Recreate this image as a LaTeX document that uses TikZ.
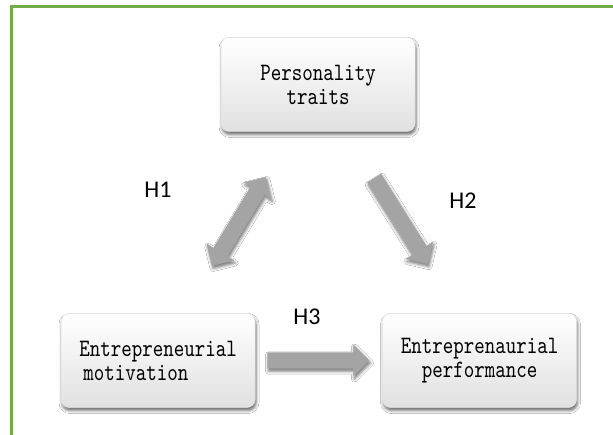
\documentclass[tikz,border=0pt]{standalone}
\usepackage{fontspec}
\newfontfamily\labelfont{Carlito}
\newfontfamily\boxfont{lmmono10-regular.otf}[FakeStretch=0.8]
\usetikzlibrary{shapes.arrows,shadows.blur,calc}
\definecolor{framegreen}{RGB}{112,173,71}
\definecolor{arrowgray}{RGB}{164,164,164}
\begin{document}
\begin{tikzpicture}[x=1pt,y=1pt,
  box/.style={rounded corners=8pt, minimum width=194pt, minimum height=94pt,
    top color=white, middle color=black!2, bottom color=black!12,
    draw=black!12, line width=0.5pt,
    blur shadow={shadow xshift=1pt, shadow yshift=-3pt, shadow blur radius=3pt, shadow opacity=60},
    font=\boxfont\fontsize{25}{24}\selectfont,
    align=center, inner sep=0pt},
  arrowbase/.style={fill=arrowgray, draw=none, minimum width=32pt,
    inner xsep=0pt, inner ysep=8pt,
    blur shadow={shadow xshift=1pt, shadow yshift=-2.5pt, shadow blur radius=3pt, shadow opacity=55}},
  blockarrow/.style={arrowbase, single arrow, single arrow head extend=8pt},
  twowayarrow/.style={arrowbase, double arrow, double arrow head extend=8pt},
  hlabel/.style={font=\labelfont\fontsize{24}{24}\selectfont, inner sep=0pt}
]
\useasboundingbox (0,0) rectangle (613,434);
\fill[white] (0,0) rectangle (613,434);

% green frame, open to the right and bottom
\draw[framegreen, line width=2.5pt] (11.3,-10) -- (11.3,427.3) -- (630,427.3);

% the three constructs
\node[box] (pers) at (318,349.5) {Personality\\traits};
\node[box, align=left] (mot) at (158,73.5) {Entrepreneurial\\\hspace{4pt}motivation};
\node[box] (perf) at (479.5,73.5) {Entreprenaurial\\performance};

% hypotheses arrows
\node[twowayarrow, minimum height=104pt, rotate=58.8] (a1) at (239,212.5) {};
\node[blockarrow, minimum height=101.5pt, rotate=-57.9, anchor=tail] (a2) at (374,256) {};
\node[blockarrow, minimum height=102pt, anchor=tail] (a3) at ($(mot.east)+(12,0)$) {};

% labels
\node[hlabel] (h1) at (158,244) {H1};
\node[hlabel] (h2) at (463,233) {H2};
\node[hlabel] (h3) at (307,117) {H3};
\end{tikzpicture}
\end{document}
